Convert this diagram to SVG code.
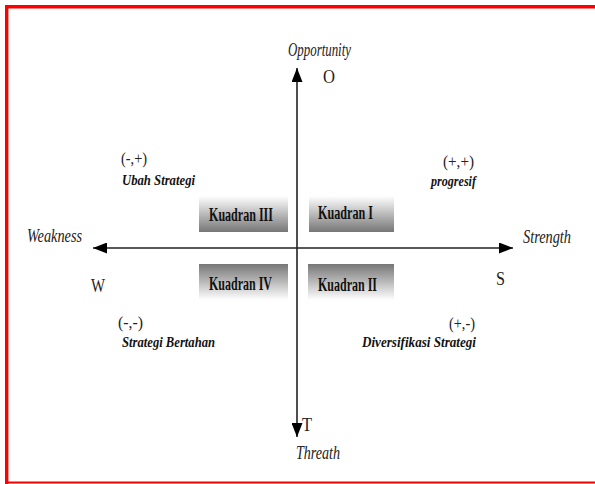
<svg xmlns="http://www.w3.org/2000/svg" width="595" height="484" viewBox="0 0 595 484">
<defs>
<linearGradient id="gUp" x1="0" y1="0" x2="0" y2="1">
<stop offset="0" stop-color="#ffffff"/>
<stop offset="1" stop-color="#767676"/>
</linearGradient>
<linearGradient id="gDown" x1="0" y1="0" x2="0" y2="1">
<stop offset="0" stop-color="#767676"/>
<stop offset="1" stop-color="#ffffff"/>
</linearGradient>
<marker id="arr" viewBox="0 0 14 11" refX="14" refY="5.5" markerWidth="14" markerHeight="11" markerUnits="userSpaceOnUse" orient="auto">
<path d="M0,0 L14,5.5 L0,11 Z" fill="#000"/>
</marker>
<style>
.ax{stroke:#222;stroke-width:1.6;fill:none}
.box{stroke:none}
.kq{font-family:"Liberation Serif",serif;font-size:18px;font-weight:bold;fill:#111}
.ital{font-family:"Liberation Serif",serif;font-style:italic;font-size:18px;fill:#222}
.letter{font-family:"Liberation Serif",serif;font-size:19px;fill:#222}
.sign{font-family:"Liberation Serif",serif;font-size:17px;fill:#222}
.strat{font-family:"Liberation Serif",serif;font-style:italic;font-weight:bold;font-size:15px;fill:#111}
</style>
</defs>
<rect x="0" y="0" width="595" height="484" fill="#fff"/>
<g id="frame" stroke="#ff0000" fill="none">
<line x1="5" y1="6.7" x2="595" y2="6.7" stroke-width="3.4"/>
<line x1="6.7" y1="5" x2="6.7" y2="484" stroke-width="3.4"/>
<line x1="5" y1="482.5" x2="595" y2="482.5" stroke-width="2"/>
</g>
<g id="connectors">
<line class="ax" x1="297" y1="248" x2="513" y2="248" marker-end="url(#arr)"/>
<line class="ax" x1="297" y1="248" x2="93" y2="248" marker-end="url(#arr)"/>
<line class="ax" x1="297" y1="248" x2="297" y2="68" marker-end="url(#arr)"/>
<line class="ax" x1="297" y1="248" x2="297" y2="437" marker-end="url(#arr)"/>
</g>
<g id="kuadran3">
<rect class="box" x="199" y="196" width="89" height="36" fill="url(#gUp)"/>
<text class="kq" x="209" y="221" textLength="64" lengthAdjust="spacingAndGlyphs">Kuadran III</text>
</g>
<g id="kuadran1">
<rect class="box" x="309" y="196" width="85" height="36" fill="url(#gUp)"/>
<text class="kq" x="318" y="219" textLength="55" lengthAdjust="spacingAndGlyphs">Kuadran I</text>
</g>
<g id="kuadran4">
<rect class="box" x="199" y="264" width="89" height="36" fill="url(#gDown)"/>
<text class="kq" x="209" y="290" textLength="63" lengthAdjust="spacingAndGlyphs">Kuadran IV</text>
</g>
<g id="kuadran2">
<rect class="box" x="308" y="264" width="86" height="36" fill="url(#gDown)"/>
<text class="kq" x="318" y="291" textLength="59" lengthAdjust="spacingAndGlyphs">Kuadran II</text>
</g>
<g id="opportunity">
<text class="ital" x="288" y="56" textLength="63" lengthAdjust="spacingAndGlyphs">Opportunity</text>
<text class="letter" x="323" y="83" textLength="12" lengthAdjust="spacingAndGlyphs">O</text>
</g>
<g id="weakness">
<text class="ital" x="27" y="242" textLength="55" lengthAdjust="spacingAndGlyphs">Weakness</text>
<text class="letter" x="91" y="292" textLength="14" lengthAdjust="spacingAndGlyphs">W</text>
</g>
<g id="strength">
<text class="ital" x="523" y="243" textLength="48" lengthAdjust="spacingAndGlyphs">Strength</text>
<text class="letter" x="496" y="285" textLength="9" lengthAdjust="spacingAndGlyphs">S</text>
</g>
<g id="threath">
<text class="letter" x="302" y="431" textLength="10" lengthAdjust="spacingAndGlyphs">T</text>
<text class="ital" x="296" y="459" textLength="44" lengthAdjust="spacingAndGlyphs">Threath</text>
</g>
<g id="q3label">
<text class="sign" x="121" y="164" textLength="26" lengthAdjust="spacingAndGlyphs">(-,+)</text>
<text class="strat" x="122" y="185" textLength="73" lengthAdjust="spacingAndGlyphs">Ubah Strategi</text>
</g>
<g id="q1label">
<text class="sign" x="443" y="167" textLength="31" lengthAdjust="spacingAndGlyphs">(+,+)</text>
<text class="strat" x="431" y="186" textLength="45" lengthAdjust="spacingAndGlyphs">progresif</text>
</g>
<g id="q4label">
<text class="sign" x="118" y="328" textLength="25" lengthAdjust="spacingAndGlyphs">(-,-)</text>
<text class="strat" x="122" y="347" textLength="93" lengthAdjust="spacingAndGlyphs">Strategi Bertahan</text>
</g>
<g id="q2label">
<text class="sign" x="449" y="329" textLength="26" lengthAdjust="spacingAndGlyphs">(+,-)</text>
<text class="strat" x="362" y="347" textLength="114" lengthAdjust="spacingAndGlyphs">Diversifikasi Strategi</text>
</g>
</svg>
